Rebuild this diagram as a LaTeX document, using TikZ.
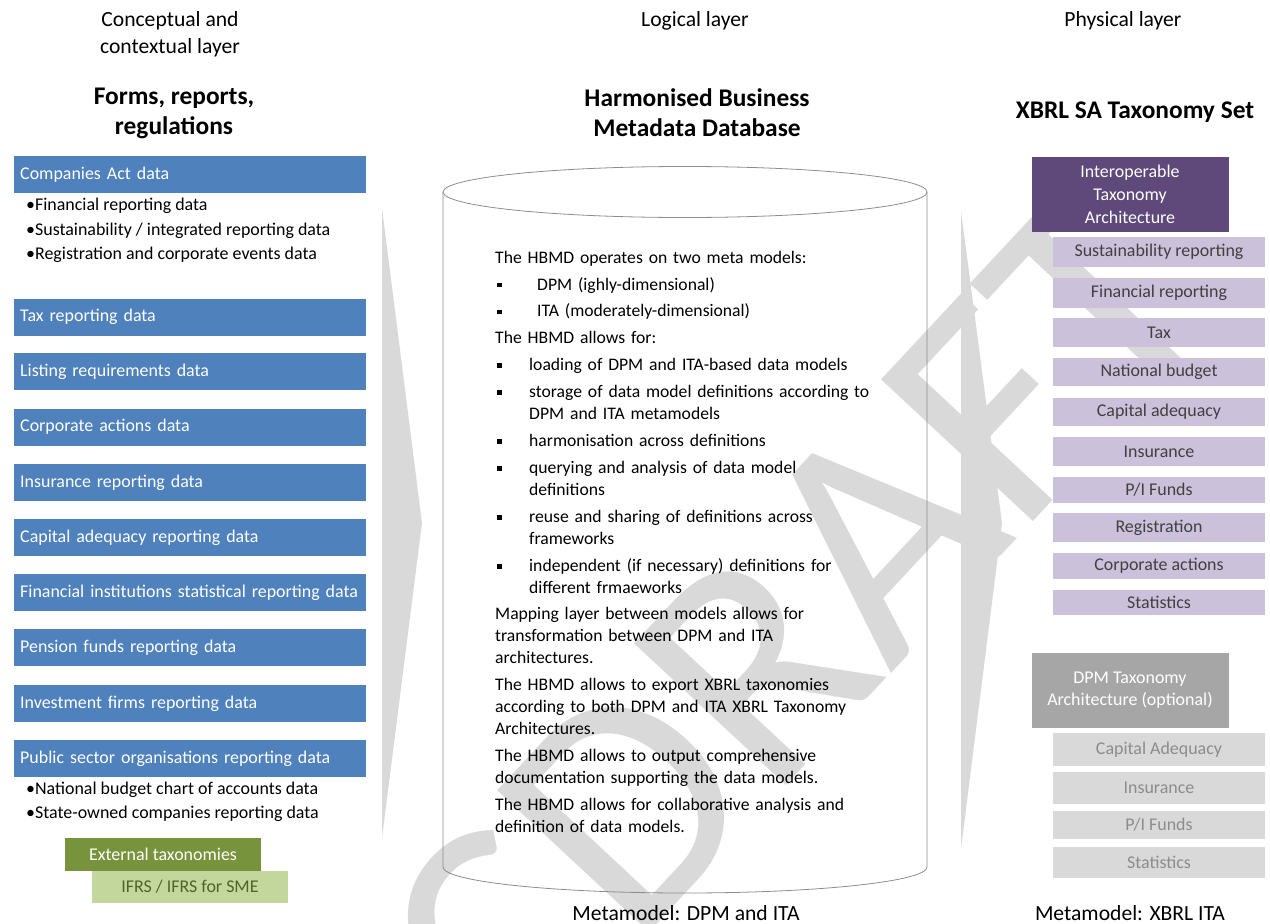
\documentclass[tikz,border=0pt]{standalone}
\usepackage{fontspec}
\setmainfont{Carlito}
\usetikzlibrary{positioning}

\definecolor{boxblue}{HTML}{4F81BD}
\definecolor{itapurple}{HTML}{5F497A}
\definecolor{italight}{HTML}{CCC1DA}
\definecolor{itatext}{HTML}{404040}
\definecolor{dpmgray}{HTML}{A6A6A6}
\definecolor{dpmlight}{HTML}{D9D9D9}
\definecolor{dpmtext}{HTML}{8C8C8C}
\definecolor{extgreen}{HTML}{77933C}
\definecolor{extlight}{HTML}{C3D69B}
\definecolor{exttext}{HTML}{4F6228}
\definecolor{shadegray}{HTML}{D9D9D9}

% square bullets and lines for the text in the database
\newcommand{\sqbullet}{\raisebox{2.6bp}{\rule{4.8bp}{4.8bp}}}
\newcommand{\hbitem}[2][34bp]{\par\hangindent=#1\hangafter=1\noindent\makebox[#1][l]{\hspace{2bp}\sqbullet}#2}
\newcommand{\hbpara}[1]{\par\noindent #1}

\begin{document}
\begin{tikzpicture}[x=1bp,y=-1bp,
  every node/.style={inner sep=0pt,font=\fontsize{18}{22}\selectfont},
  layerlabel/.style={align=center,font=\fontsize{21.7}{27}\selectfont},
  headline/.style={align=center,font=\fontsize{25.5}{30}\selectfont\bfseries},
  datarow/.style={fill=boxblue,text=white,anchor=west,minimum height=37bp,text width=340bp,inner xsep=6bp,align=left},
  subline/.style={anchor=west,text=black},
  itahead/.style={fill=itapurple,text=white,minimum width=197bp,minimum height=75bp,align=center,font=\fontsize{18}{23}\selectfont},
  itarow/.style={fill=italight,text=itatext,minimum width=212bp},
  dpmhead/.style={fill=dpmgray,text=white,minimum width=197bp,minimum height=75bp,align=center,font=\fontsize{18}{22}\selectfont},
  dpmrow/.style={fill=dpmlight,text=dpmtext,minimum width=212bp},
  mark text/.style={rotate=47,text=shadegray,font=\fontsize{325}{325}\selectfont},
  cyl/.style={draw=black!45,line width=0.8bp}]
\useasboundingbox (0,0) rectangle (1270,924);

% watermark and the two big chevrons
\node[mark text](draft)at(855, 560){DRAFT};
\node[mark text,anchor=base east](pub)at(draft.base west){PUBLIC\hspace{0.226em}};
\fill[shadegray] (382,208) -- (422,523) -- (382,838) -- cycle;
\fill[shadegray] (961,211) -- (1002,523) -- (961,849) -- cycle;

% headers
\node[layerlabel](concept)at(170, 34){Conceptual and\\contextual layer};
\node[layerlabel](logical)at(695, 21){Logical layer};
\node[layerlabel](physical)at(1123, 21){Physical layer};
\node[headline](forms)at(174, 113){Forms, reports,\\regulations};
\node[headline](hbmd)at(697, 113){Harmonised Business\\Metadata Database};
\node[headline](xbrlset)at(1135, 112){XBRL SA Taxonomy Set};

% left column
\node[datarow](companies)at(14, 174.5){Companies Act data};
\node[subline](sub1)at(26, 206){\textbullet Financial reporting data};
\node[subline](sub2)at(26, 230.5){\textbullet Sustainability / integrated reporting data};
\node[subline](sub3)at(26, 255){\textbullet Registration and corporate events data};
\node[datarow](tax)at(14, 317){Tax reporting data};
\node[datarow](listing)at(14, 371.5){Listing requirements data};
\node[datarow](corpact)at(14, 427){Corporate actions data};
\node[datarow](insur)at(14, 482.5){Insurance reporting data};
\node[datarow](capital)at(14, 537.5){Capital adequacy reporting data};
\node[datarow](finstat)at(14, 592.5){Financial institutions statistical reporting data};
\node[datarow](pension)at(14, 647.5){Pension funds reporting data};
\node[datarow](invest)at(14, 703.5){Investment firms reporting data};
\node[datarow](public)at(14, 758.5){Public sector organisations reporting data};
\node[subline](sub4)at(26, 790){\textbullet National budget chart of accounts data};
\node[subline](sub5)at(26, 814){\textbullet State-owned companies reporting data};
\node[fill=extgreen,text=white,minimum width=196bp,minimum height=33bp](external)at(163, 854.5){External taxonomies};
\node[fill=extlight,text=exttext,minimum width=196bp,minimum height=32bp](ifrs)at(190, 887){IFRS / IFRS for SME};

% the database
\draw[cyl] (685,192) ellipse [x radius=242bp,y radius=25.5bp];
\draw[cyl] (443,192) -- (443,867) arc [start angle=180,end angle=360,x radius=242bp,y radius=26bp] -- (927,192);
\node[anchor=north west,text width=420bp,align=left,font=\fontsize{17.7}{22}\selectfont](hbmdtext)at(495, 236){%
\setlength{\parskip}{5bp}%
\hbpara{The HBMD operates on two meta models:}
\hbitem[42bp]{DPM (ighly-dimensional)}
\hbitem[42bp]{ITA (moderately-dimensional)}
\hbpara{The HBMD allows for:}
\hbitem{loading of DPM and ITA-based data models}
\hbitem{storage of data model definitions according to\newline DPM and ITA metamodels}
\hbitem{harmonisation across definitions}
\hbitem{querying and analysis of data model\newline definitions}
\hbitem{reuse and sharing of definitions across\newline frameworks}
\hbitem{independent (if necessary) definitions for\newline different frmaeworks}
\hbpara{Mapping layer between models allows for\newline transformation between DPM and ITA\newline architectures.}
\hbpara{The HBMD allows to export XBRL taxonomies\newline according to both DPM and ITA XBRL Taxonomy\newline Architectures.}
\hbpara{The HBMD allows to output comprehensive\newline documentation supporting the data models.}
\hbpara{The HBMD allows for collaborative analysis and\newline definition of data models.}\par};
\node[layerlabel](metadpm)at(686, 913){Metamodel: DPM and ITA};

% right column
\node[itahead](ita)at(1130, 194){Interoperable\\Taxonomy\\Architecture};
\node[itarow,minimum height=30bp](sust)at(1159, 252){Sustainability reporting};
\node[itarow,minimum height=30bp](finrep)at(1159, 293){Financial reporting};
\node[itarow,minimum height=29bp](itatax)at(1159, 332.5){Tax};
\node[itarow,minimum height=28bp](budget)at(1159, 372){National budget};
\node[itarow,minimum height=28bp](itacap)at(1159, 412){Capital adequacy};
\node[itarow,minimum height=29bp](itains)at(1159, 451.5){Insurance};
\node[itarow,minimum height=26bp](itapi)at(1159, 490){P/I Funds};
\node[itarow,minimum height=29bp](regist)at(1159, 527.5){Registration};
\node[itarow,minimum height=26bp](itacorp)at(1159, 566){Corporate actions};
\node[itarow,minimum height=25bp](itastat)at(1159, 602.5){Statistics};
\node[dpmhead](dpm)at(1130, 690){DPM Taxonomy\\Architecture (optional)};
\node[dpmrow,minimum height=33bp](dpmcap)at(1159, 749.5){Capital Adequacy};
\node[dpmrow,minimum height=32bp](dpmins)at(1159, 788){Insurance};
\node[dpmrow,minimum height=28bp](dpmpi)at(1159, 825){P/I Funds};
\node[dpmrow,minimum height=31bp](dpmstat)at(1159, 862.5){Statistics};
\node[layerlabel](metaxbrl)at(1130, 913){Metamodel: XBRL ITA};
\end{tikzpicture}
\end{document}
